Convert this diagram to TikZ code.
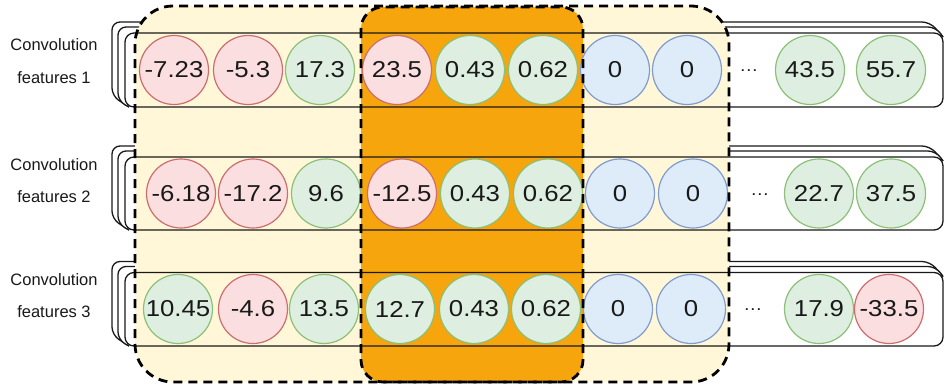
\documentclass[tikz,border=0pt]{standalone}
\usepackage{fontspec}
\setmainfont{Liberation Sans}
\newfontfamily\numfont[FakeStretch=1.12]{Liberation Sans}
\definecolor{yel}{RGB}{255,247,216}
\definecolor{org}{RGB}{246,165,12}
\definecolor{rfill}{RGB}{250,222,224}
\definecolor{rdraw}{RGB}{205,110,110}
\definecolor{gfill}{RGB}{222,239,225}
\definecolor{gdraw}{RGB}{140,192,118}
\definecolor{bfill}{RGB}{222,236,250}
\definecolor{bdraw}{RGB}{128,155,205}
\definecolor{ink}{RGB}{25,25,25}
\tikzset{
  cell/.style={circle, minimum size=69pt, inner sep=0pt, line width=1.2pt, text=ink,
    font=\numfont\fontsize{23}{27}\selectfont},
  negcell/.style={cell, fill=rfill, draw=rdraw},
  poscell/.style={cell, fill=gfill, draw=gdraw},
  zercell/.style={cell, fill=bfill, draw=bdraw},
  lbl/.style={inner sep=0pt, text=ink, font=\fontsize{16.5}{20}\selectfont},
  dotsnode/.style={inner sep=0pt, text=ink, font=\numfont\fontsize{17}{20}\selectfont},
  rowline/.style={line width=1.3pt, draw=ink},
  rowbox/.style={rectangle, rounded corners=9pt, minimum width=818pt, inner sep=0pt, rowline},
  backline/.style={line width=1.3pt, draw=ink, rounded corners=8pt},
  region/.style={line width=2.8pt, dash pattern=on 9pt off 6pt, draw=black},
}
\newcommand{\backshape}[4]{% y0, y1, dx, dy
  \fill[white, rounded corners=8pt] (129,#2) -- ({125+#3},{#2+#4}) -- ({125+#3},{#1+#4})
     -- ({943+#3},{#1+#4}) -- (943,{#1+4}) -- (943,#2) -- cycle;
  \draw[backline] (129,#2) -- ({125+#3},{#2+#4}) -- ({125+#3},{#1+#4})
     -- ({943+#3},{#1+#4}) -- (943,{#1+4});
}
\begin{document}
\begin{tikzpicture}[x=1pt,y=-1pt]
\useasboundingbox (0,0) rectangle (950,389);
\fill[white] (0,0) rectangle (950,389);

% stacked back sheets
\backshape{33}{107}{-13}{-11}
\backshape{33}{107}{-7}{-6}
\backshape{157}{230}{-13}{-11}
\backshape{157}{230}{-7}{-6}
\backshape{272.5}{346}{-13}{-11}
\backshape{272.5}{346}{-7}{-6}

% front sheets fill
\fill[white, rounded corners=9pt] (125,33) rectangle (943,107);
\fill[white, rounded corners=9pt] (125,157) rectangle (943,230);
\fill[white, rounded corners=9pt] (125,272.5) rectangle (943,346);

% highlighted regions
\fill[yel, rounded corners=38pt] (135,6) rectangle (729,382);
\fill[org, rounded corners=22pt] (361,7) rectangle (583,382);

% front sheet outlines
\node[rowbox, minimum height=74pt] (r1) at (534,70) {};
\node[rowbox, minimum height=73pt] (r2) at (534,193.5) {};
\node[rowbox, minimum height=73.5pt] (r3) at (534,309.25) {};

% labels
\node[lbl] (l1a) at (54,45) {Convolution};
\node[lbl] (l1b) at (54,78) {features 1};
\node[lbl] (l2a) at (54,165) {Convolution};
\node[lbl] (l2b) at (54,197) {features 2};
\node[lbl] (l3a) at (54,280) {Convolution};
\node[lbl] (l3b) at (54,312) {features 3};

% row 1
\node[negcell] (c1-1) at (174,70) {-7.23};
\node[negcell] (c1-2) at (248,70) {-5.3};
\node[poscell] (c1-3) at (320,70) {17.3};
\node[negcell] (c1-4) at (397,70) {23.5};
\node[poscell] (c1-5) at (470,70) {0.43};
\node[poscell] (c1-6) at (543,70) {0.62};
\node[zercell] (c1-7) at (615,70) {0};
\node[zercell] (c1-8) at (687,70) {0};
\node[dotsnode] (d1) at (749,71) {…};
\node[poscell] (c1-9) at (810,70) {43.5};
\node[poscell] (c1-10) at (891,70) {55.7};

% row 2
\node[negcell] (c2-1) at (181,193.5) {-6.18};
\node[negcell] (c2-2) at (253,193.5) {-17.2};
\node[poscell] (c2-3) at (326,193.5) {9.6};
\node[negcell] (c2-4) at (402,193.5) {-12.5};
\node[poscell] (c2-5) at (475,193.5) {0.43};
\node[poscell] (c2-6) at (548,193.5) {0.62};
\node[zercell] (c2-7) at (620,193.5) {0};
\node[zercell] (c2-8) at (693,193.5) {0};
\node[dotsnode] (d2) at (760,194.5) {…};
\node[poscell] (c2-9) at (819,193.5) {22.7};
\node[poscell] (c2-10) at (891,193.5) {37.5};

% row 3
\node[poscell] (c3-1) at (178,309) {10.45};
\node[negcell] (c3-2) at (253,309) {-4.6};
\node[poscell] (c3-3) at (324,309) {13.5};
\node[poscell] (c3-4) at (400,309) {12.7};
\node[poscell] (c3-5) at (474,309) {0.43};
\node[poscell] (c3-6) at (546,309) {0.62};
\node[zercell] (c3-7) at (618,309) {0};
\node[zercell] (c3-8) at (691,309) {0};
\node[dotsnode] (d3) at (753,310) {…};
\node[poscell] (c3-9) at (819,309) {17.9};
\node[negcell] (c3-10) at (889,309) {-33.5};

% dashed outlines
\draw[region, rounded corners=38pt] (135,6) rectangle (729,382);
\draw[region, rounded corners=22pt] (361,7) rectangle (583,382);
\end{tikzpicture}
\end{document}
